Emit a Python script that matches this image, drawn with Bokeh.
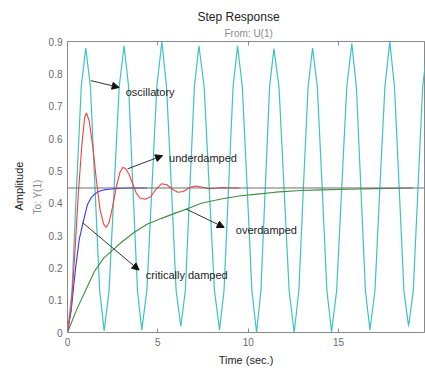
from bokeh.plotting import figure
from bokeh.models import Label, Arrow, NormalHead, Span, LinearAxis, FixedTicker, Range1d, Title
from bokeh.embed import file_html
from bokeh.resources import INLINE

FONT = "Liberation Sans"

# ---- data ----
steady = 0.447

osc_t = [0, 0.25, 0.5, 0.76, 1.01, 1.27, 1.52, 1.78, 2.03, 2.3, 2.58, 2.86, 3.13,
         3.38, 3.62, 3.87, 4.11, 4.39, 4.67, 4.94, 5.22, 5.48, 5.75, 6.01, 6.27,
         6.52, 6.77, 7.02, 7.27, 7.56, 7.84, 8.13, 8.41, 8.66, 8.91, 9.16, 9.41,
         9.67, 9.94, 10.2, 10.46, 10.7, 10.94, 11.18, 11.42, 11.7, 11.98, 12.26, 12.54,
         12.8, 13.05, 13.31, 13.56, 13.82, 14.09, 14.35, 14.61, 14.89, 15.17, 15.45, 15.73,
         15.98, 16.23, 16.48, 16.73, 17.01, 17.28, 17.56, 17.83, 18.09, 18.35, 18.61, 18.87,
         19.13, 19.39, 19.65, 19.9]
osc_y = [0, 0.13, 0.447, 0.76, 0.88, 0.76, 0.447, 0.13, 0.005, 0.13, 0.447, 0.76, 0.887,
         0.76, 0.447, 0.13, 0.008, 0.13, 0.447, 0.76, 0.899, 0.76, 0.447, 0.13, 0.019,
         0.13, 0.447, 0.76, 0.887, 0.76, 0.447, 0.13, 0.008, 0.13, 0.447, 0.76, 0.887,
         0.76, 0.447, 0.13, 0.0, 0.13, 0.447, 0.76, 0.878, 0.76, 0.447, 0.13, 0.0,
         0.13, 0.447, 0.76, 0.88, 0.76, 0.447, 0.13, 0.002, 0.13, 0.447, 0.76, 0.894,
         0.76, 0.447, 0.13, 0.008, 0.13, 0.447, 0.76, 0.899, 0.76, 0.447, 0.13, 0.019,
         0.13, 0.447, 0.76, 0.88]

under_t = [0, 0.2, 0.4, 0.6, 0.8, 0.95, 1.05, 1.2, 1.4, 1.6, 1.8, 2.0, 2.14, 2.3, 2.5,
           2.7, 2.9, 3.05, 3.2, 3.4, 3.6, 3.8, 4.0, 4.3, 4.6, 4.9, 5.2, 5.5, 5.8, 6.1,
           6.4, 6.8, 7.1, 7.4, 7.8, 8.2, 8.6, 9.0, 9.5]
under_y = [0, 0.075, 0.24, 0.43, 0.585, 0.665, 0.679, 0.655, 0.575, 0.47, 0.38, 0.335,
           0.325, 0.34, 0.39, 0.45, 0.495, 0.51, 0.508, 0.49, 0.46, 0.432, 0.416, 0.412,
           0.42, 0.443, 0.46, 0.457, 0.443, 0.434, 0.436, 0.449, 0.453, 0.450, 0.445,
           0.446, 0.448, 0.447, 0.447]

crit_t = [0, 0.2, 0.43, 0.65, 0.86, 1.1, 1.3, 1.5, 1.75, 2.0, 2.3, 2.6, 3.0, 3.5, 4.4]
crit_y = [0, 0.066, 0.191, 0.288, 0.34, 0.395, 0.416, 0.428, 0.437, 0.441, 0.443,
          0.445, 0.446, 0.447, 0.447]

over_t = [0, 0.5, 1.0, 1.5, 2.0, 2.5, 3.0, 3.7, 4.4, 5.2, 6.0, 6.6, 7.4, 8.5, 9.5,
          10.5, 11.5, 12.9, 14.0, 15.5, 17.0, 19.1]
over_y = [0, 0.07, 0.13, 0.19, 0.23, 0.255, 0.28, 0.31, 0.335, 0.353, 0.37, 0.382,
          0.40, 0.413, 0.422, 0.428, 0.434, 0.439, 0.441, 0.443, 0.445, 0.447]

x_ticks = [0, 5, 10, 15, 20]
y_ticks = [0, 0.1, 0.2, 0.3, 0.4, 0.5, 0.6, 0.7, 0.8, 0.9]

p = figure(width=425, height=368, x_range=Range1d(0, 19.75), y_range=Range1d(0, 0.9),
           output_backend="svg", toolbar_location=None,
           min_border_left=67, min_border_right=1, min_border_top=41, min_border_bottom=4)
p.grid.visible = False
p.outline_line_color = "#8a8a8a"
p.background_fill_color = "white"
p.border_fill_color = "white"

for ax in (p.xaxis[0], p.yaxis[0]):
    ax.axis_line_color = "#8a8a8a"
    ax.major_tick_line_color = "#8a8a8a"
    ax.major_tick_in = 4
    ax.major_tick_out = 0
    ax.minor_tick_line_color = None
    ax.major_label_text_font = FONT
    ax.major_label_text_font_size = "10px"
    ax.major_label_text_color = "#6a6a6a"
    ax.major_label_standoff = 5
    ax.axis_label_text_font = FONT
    ax.axis_label_text_font_style = "normal"
p.xaxis[0].ticker = FixedTicker(ticks=x_ticks)
p.yaxis[0].ticker = FixedTicker(ticks=y_ticks)
p.yaxis[0].major_tick_in = 0

p.xaxis[0].axis_label = "Time (sec.)"
p.xaxis[0].axis_label_text_font_size = "11px"
p.xaxis[0].axis_label_text_color = "#222222"
p.xaxis[0].axis_label_standoff = 5

top = LinearAxis(ticker=FixedTicker(ticks=x_ticks), major_label_text_font_size="0px",
                 major_label_text_color=None,
                 major_tick_in=4, major_tick_out=0, axis_line_color="#8a8a8a",
                 major_tick_line_color="#8a8a8a", minor_tick_line_color=None,
                 major_label_standoff=0)
p.add_layout(top, "above")

p.add_layout(Title(text="From: U(1)", text_font=FONT, text_font_size="10px",
                   text_font_style="normal", text_color="#8a8a8a", align="left",
                   offset=157, standoff=5), "above")
p.add_layout(Title(text="Step Response", text_font=FONT, text_font_size="12px",
                   text_font_style="normal", text_color="#222222", align="left",
                   offset=130, standoff=0), "above")

p.add_layout(Title(text="To: Y(1)", text_font=FONT, text_font_size="10px",
                   text_font_style="normal", text_color="#8a8a8a", align="left",
                   offset=118, standoff=6), "left")
p.add_layout(Title(text="Amplitude", text_font=FONT, text_font_size="11px",
                   text_font_style="normal", text_color="#222222", align="left",
                   offset=122, standoff=4), "left")

p.add_layout(Span(location=steady, dimension="width", line_color="#6e6e6e", line_width=1))

p.line(osc_t, osc_y, line_color="#3cc3c3", line_width=1.2)
p.line(over_t, over_y, line_color="#3f8f3f", line_width=1.1)
p.line(crit_t, crit_y, line_color="#3535ff", line_width=1.1)
p.line(under_t, under_y, line_color="#ff3a3a", line_width=1.1)

def lab(x, y, text):
    p.add_layout(Label(x=x, y=y, text=text, text_font=FONT, text_font_size="11px",
                       text_color="#222222", text_align="left", text_baseline="middle"))

lab(3.22, 0.745, "oscillatory")
lab(5.62, 0.540, "underdamped")
lab(9.31, 0.318, "overdamped")
lab(4.33, 0.178, "critically damped")

def arrow(x0, y0, x1, y1):
    p.add_layout(Arrow(x_start=x0, y_start=y0, x_end=x1, y_end=y1,
                       line_color="#333333", line_width=1,
                       end=NormalHead(size=7, fill_color="#111111", line_color="#111111")))

arrow(1.29, 0.779, 2.86, 0.758)
arrow(3.32, 0.506, 5.26, 0.547)
arrow(6.55, 0.382, 8.67, 0.325)
arrow(0.83, 0.34, 3.96, 0.193)

open("out.html", "w").write(file_html(p, INLINE))
